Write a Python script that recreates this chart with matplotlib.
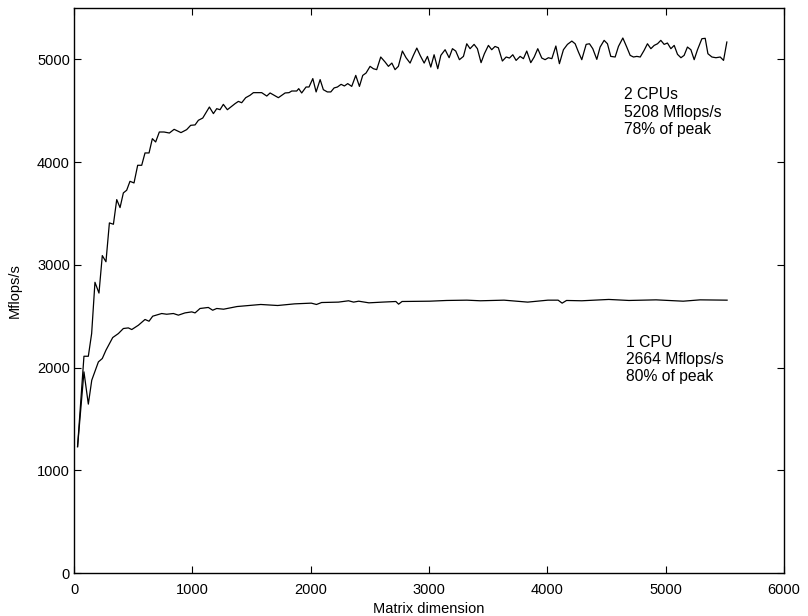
import matplotlib
matplotlib.use('Agg')
import matplotlib.pyplot as plt

# Mflops/s vs matrix dimension.
x_1cpu = [30, 84, 121, 150, 206, 239, 270, 327, 375, 417, 459, 488, 544, 600,
          634, 665, 741, 783, 840, 882, 938, 995, 1023, 1065, 1135, 1172, 1206,
          1264, 1378, 1578, 1721, 1864, 2005, 2049, 2092, 2235, 2320, 2363,
          2406, 2492, 2606, 2720, 2743, 2772, 3006, 3149, 3320, 3434, 3634,
          3834, 4005, 4091, 4125, 4162, 4291, 4519, 4690, 4919, 5148, 5291,
          5519]
y_1cpu = [1230, 1958, 1644, 1877, 2055, 2088, 2169, 2292, 2331, 2380, 2386,
          2370, 2412, 2468, 2451, 2500, 2526, 2519, 2526, 2510, 2532, 2542,
          2532, 2575, 2585, 2558, 2575, 2568, 2594, 2614, 2604, 2620, 2627,
          2614, 2633, 2637, 2650, 2637, 2646, 2630, 2637, 2643, 2617, 2643,
          2646, 2653, 2656, 2650, 2656, 2637, 2656, 2656, 2627, 2653, 2650,
          2663, 2653, 2659, 2646, 2659, 2656]

x_2cpu = [30, 84, 121, 149, 177, 211, 239, 270, 299, 333, 361, 389, 417, 445,
          473, 507, 538, 572, 600, 634, 662, 690, 721, 761, 806, 846, 904, 952,
          986, 1023, 1051, 1088, 1144, 1178, 1206, 1234, 1262, 1296, 1333,
          1361, 1389, 1417, 1451, 1487, 1516, 1586, 1629, 1657, 1727, 1784,
          1817, 1840, 1882, 1899, 1924, 1961, 1986, 2018, 2046, 2080, 2107,
          2141, 2170, 2198, 2226, 2257, 2285, 2313, 2347, 2381, 2412, 2440,
          2468, 2502, 2530, 2558, 2592, 2629, 2657, 2686, 2713, 2741, 2775,
          2806, 2840, 2868, 2897, 2925, 2959, 2987, 3015, 3043, 3074, 3100,
          3136, 3170, 3198, 3226, 3257, 3291, 3319, 3347, 3381, 3409, 3440,
          3468, 3502, 3530, 3558, 3586, 3620, 3652, 3680, 3708, 3736, 3770,
          3798, 3826, 3860, 3889, 3919, 3953, 3981, 4009, 4038, 4072, 4102,
          4136, 4170, 4207, 4235, 4263, 4291, 4328, 4356, 4384, 4418, 4446,
          4480, 4508, 4536, 4573, 4601, 4638, 4671, 4700, 4728, 4756, 4785,
          4818, 4846, 4875, 4903, 4931, 4959, 4987, 5015, 5044, 5072, 5100,
          5129, 5156, 5184, 5213, 5241, 5269, 5306, 5334, 5357, 5391, 5425,
          5461, 5489, 5517]
y_2cpu = [1230, 2110, 2110, 2331, 2830, 2725, 3090, 3030, 3408, 3395, 3635,
          3557, 3700, 3726, 3813, 3797, 3969, 3969, 4089, 4089, 4228, 4196,
          4293, 4293, 4283, 4319, 4287, 4316, 4358, 4362, 4407, 4429, 4536,
          4472, 4520, 4510, 4562, 4510, 4543, 4569, 4591, 4578, 4627, 4650,
          4676, 4676, 4643, 4673, 4627, 4673, 4676, 4692, 4692, 4715, 4673,
          4731, 4731, 4813, 4683, 4803, 4705, 4683, 4683, 4722, 4731, 4757,
          4741, 4764, 4737, 4844, 4737, 4844, 4867, 4932, 4909, 4900, 5023,
          4974, 4932, 4964, 4900, 4932, 5081, 5016, 4964, 5039, 5110, 5039,
          4964, 5029, 4925, 5045, 4909, 5039, 5094, 5016, 5104, 5081, 4997,
          5029, 5152, 5104, 5146, 5104, 4968, 5055, 5136, 5094, 5126, 5113,
          4984, 5023, 5013, 5045, 4990, 5029, 5007, 5081, 4968, 5023, 5104,
          5013, 4997, 5016, 5007, 5130, 4958, 5094, 5146, 5178, 5152, 5071,
          4997, 5146, 5152, 5104, 5000, 5120, 5185, 5152, 5029, 5023, 5126,
          5208, 5120, 5039, 5023, 5029, 5023, 5088, 5152, 5104, 5136, 5152,
          5185, 5146, 5159, 5104, 5136, 5049, 5016, 5039, 5120, 5094, 4997,
          5094, 5201, 5205, 5055, 5023, 5016, 5023, 4990, 5169]

x_ticks = [0, 1000, 2000, 3000, 4000, 5000, 6000]
y_ticks = [0, 1000, 2000, 3000, 4000, 5000]

label_2cpu = "2 CPUs\n5208 Mflops/s\n78% of peak"
label_1cpu = "1 CPU\n2664 Mflops/s\n80% of peak"

plt.rcParams['font.family'] = ['Liberation Sans', 'DejaVu Sans']

fig = plt.figure(figsize=(8.08, 6.16), dpi=100)
ax = fig.add_axes([0.0916, 0.0698, 0.8787, 0.9172])

ax.plot(x_2cpu, y_2cpu, color='black', linewidth=0.9)
ax.plot(x_1cpu, y_1cpu, color='black', linewidth=0.9)

ax.set_xlim(0, 6000)
ax.set_ylim(0, 5500)
ax.set_xticks(x_ticks)
ax.set_yticks(y_ticks)
ax.tick_params(direction='in', top=True, right=True, length=5, width=0.8,
               labelsize=10.5, pad=3)
ax.tick_params(axis='x', pad=7)
for s in ax.spines.values():
    s.set_linewidth(1.0)

ax.set_xlabel('Matrix dimension', fontsize=10.5)
ax.set_ylabel('Mflops/s', fontsize=10.5)
ax.xaxis.set_label_coords(0.5, -0.052)
ax.yaxis.set_label_coords(-0.073, 0.5)

ax.text(4650, 4730, label_2cpu, fontsize=11.3, va='top', ha='left',
        linespacing=1.2)
ax.text(4665, 2320, label_1cpu, fontsize=11.3, va='top', ha='left',
        linespacing=1.2)

fig.savefig('out.png', dpi=100)
plt.close(fig)
